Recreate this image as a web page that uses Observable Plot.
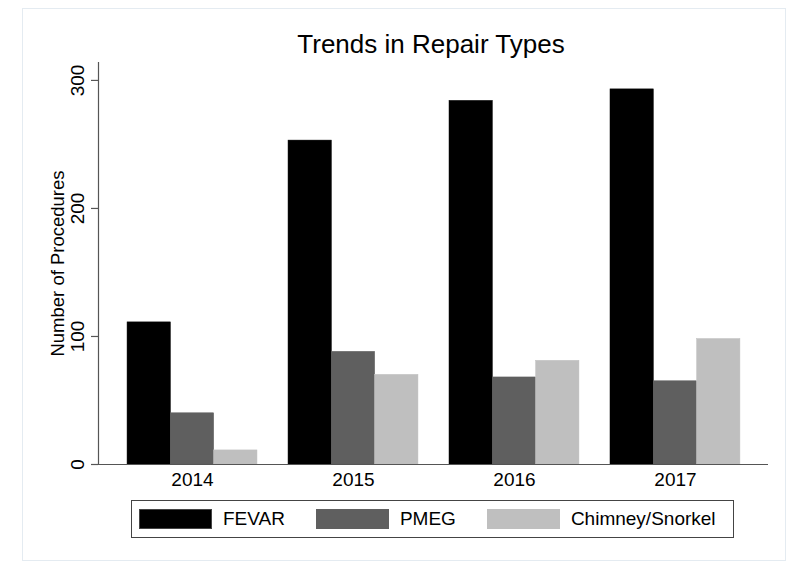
<!DOCTYPE html>
<html>
<head>
<meta charset="utf-8">
<script src="https://cdn.jsdelivr.net/npm/d3@7"></script>
<script src="https://cdn.jsdelivr.net/npm/@observablehq/plot@0.6"></script>
<style>
  html, body { margin: 0; padding: 0; background: #fff; }
  #wrap { position: relative; width: 800px; height: 574px; font-family: "Liberation Sans", Arial, sans-serif; color: #000; }
  #outer { position: absolute; left: 22px; top: 8px; width: 764px; height: 553px; border: 1px solid #e4ebf1; box-sizing: border-box; }
  #title { position: absolute; left: 0; width: 862px; top: 29px; text-align: center; font-size: 26px; line-height: 30px; }
  #chart { position: absolute; left: 0; top: 0; }
  #legend { position: absolute; left: 131px; top: 500px; width: 603px; height: 38px; box-sizing: border-box; border: 1px solid #444; display: flex; align-items: center; padding-left: 7px; font-size: 19px; overflow: hidden; }
  .sw { width: 73px; height: 20px; box-sizing: border-box; margin-right: 11px; flex: 0 0 73px; }
  .lab { margin-right: 31px; white-space: nowrap; flex: 0 0 auto; }
  .lab:last-child { margin-right: 0; }
</style>
</head>
<body>
<div id="wrap">
  <div id="outer"></div>
  <div id="chart"></div>
  <div id="title">Trends in Repair Types</div>
  <div id="legend"></div>
</div>
<script>
const years = ["2014", "2015", "2016", "2017"];
const seriesNames = ["FEVAR", "PMEG", "Chimney/Snorkel"];
const seriesColors = ["#000000", "#5f5f5f", "#bfbfbf"];
const fevar = [111, 253, 284, 293];
const pmeg = [40, 88, 68, 65];
const chimney = [11, 70, 81, 98];
const yTicks = [0, 100, 200, 300];

const seriesValues = [fevar, pmeg, chimney];
const groupWidth = 0.807;
const barW = groupWidth / seriesNames.length;

const rows = [];
years.forEach((yr, i) => {
  seriesValues.forEach((vals, s) => {
    const x1 = i - groupWidth / 2 + s * barW;
    rows.push({year: yr, series: seriesNames[s], value: vals[i], x1, x2: x1 + barW});
  });
});

const xDomain = [-0.584, 3.578];
const yDomain = [0, 314];

const chart = Plot.plot({
  width: 800,
  height: 500,
  marginTop: 62,
  marginBottom: 36,
  marginLeft: 98,
  marginRight: 32,
  style: {fontFamily: "Liberation Sans, Arial, sans-serif", fontSize: "19px", color: "#000", background: "transparent"},
  x: {type: "linear", domain: xDomain, axis: null},
  y: {domain: yDomain, axis: null},
  color: {domain: seriesNames, range: seriesColors},
  marks: [
    Plot.rectY(rows, {x1: "x1", x2: "x2", y1: 0, y2: "value", fill: "series", stroke: "series", strokeWidth: 0.5}),
    Plot.ruleY([0], {stroke: "#555", strokeWidth: 1.2}),
    Plot.ruleX([xDomain[0]], {stroke: "#555", strokeWidth: 1.2}),
    Plot.axisY({ticks: yTicks, tickSize: 7, tickFormat: () => "", label: null, stroke: "#555", strokeWidth: 1.2}),
    Plot.text(yTicks, {y: d => d, text: d => String(d), frameAnchor: "left", rotate: -90, dx: -15, textAnchor: "middle", lineAnchor: "bottom", fontSize: 19, fill: "#000"}),
    Plot.text(["Number of Procedures"], {frameAnchor: "left", rotate: -90, dx: -35, textAnchor: "middle", lineAnchor: "bottom", fontSize: 18.5, fill: "#000"}),
    Plot.axisX({ticks: years.map((d, i) => i), tickFormat: i => years[i], tickSize: 0, tickPadding: 8, label: null, fontSize: 19, fill: "#000"})
  ]
});
document.getElementById("chart").appendChild(chart);

const legend = document.getElementById("legend");
seriesNames.forEach((name, s) => {
  const sw = document.createElement("div");
  sw.className = "sw";
  sw.style.background = seriesColors[s];
  sw.style.border = "1px solid " + (s === 0 ? "#444" : seriesColors[s]);
  const lab = document.createElement("div");
  lab.className = "lab";
  lab.textContent = name;
  legend.appendChild(sw);
  legend.appendChild(lab);
});
</script>
</body>
</html>
